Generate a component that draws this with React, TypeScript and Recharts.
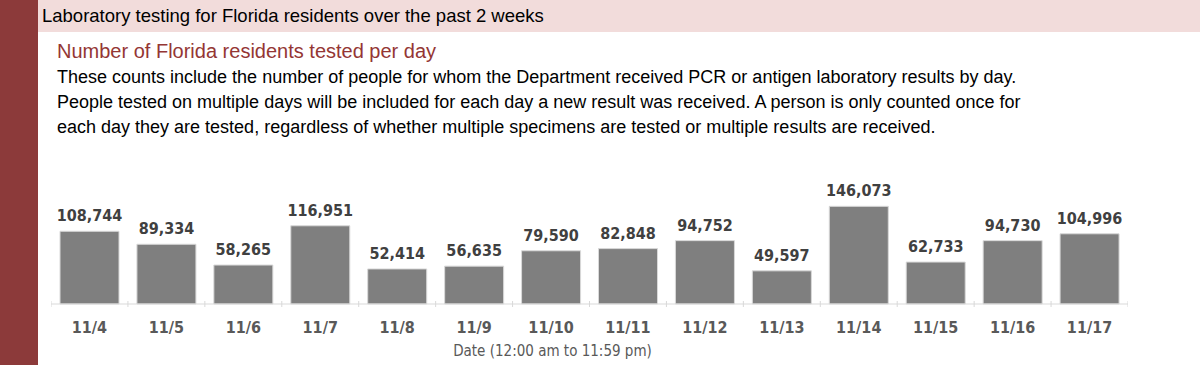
import { BarChart, Bar, XAxis, YAxis, LabelList } from "recharts";

const dates = ["11/4", "11/5", "11/6", "11/7", "11/8", "11/9", "11/10", "11/11", "11/12", "11/13", "11/14", "11/15", "11/16", "11/17"];
const tested = [108744, 89334, 58265, 116951, 52414, 56635, 79590, 82848, 94752, 49597, 146073, 62733, 94730, 104996];

const data = dates.map((d, i) => ({ date: d, tested: tested[i] }));

const MAROON = "#8c3a3a";
const NARROW = '"Liberation Sans Narrow", "DejaVu Sans Condensed", sans-serif';
const BODY = '"Liberation Sans", Arial, sans-serif';

const CHART_W = 1077;
const BAND = CHART_W / dates.length;

const DateTick = (props: any) => {
  const { x, y, payload, index } = props;
  return (
    <g>
      <line x1={x - BAND / 2} x2={x - BAND / 2} y1={y - 11} y2={y - 5} stroke="#d9d9d9" />
      {index === dates.length - 1 && (
        <line x1={x + BAND / 2} x2={x + BAND / 2} y1={y - 11} y2={y - 5} stroke="#d9d9d9" />
      )}
      <text x={x} y={y + 21} textAnchor="middle" fill="#595959" fontSize={16} fontWeight="bold" fontFamily={NARROW}>
        {payload.value}
      </text>
    </g>
  );
};

export default function App() {
  return (
    <div style={{ position: "absolute", left: 0, top: 0, width: 1200, height: 365, background: "#fff", overflow: "hidden" }}>
      <div style={{ position: "absolute", left: 0, top: 0, width: 38, height: 365, background: MAROON }} />
      <div style={{ position: "absolute", left: 38, top: 0, width: 1162, height: 32, background: "#f2dcdb" }} />
      <div style={{ position: "absolute", left: 42, top: 5, fontFamily: BODY, fontSize: 18.5, color: "#000", whiteSpace: "nowrap" }}>
        Laboratory testing for Florida residents over the past 2 weeks
      </div>
      <div style={{ position: "absolute", left: 57, top: 40, fontFamily: BODY, fontSize: 20, color: "#943634", whiteSpace: "nowrap" }}>
        Number of Florida residents tested per day
      </div>
      <div style={{ position: "absolute", left: 57, top: 65, fontFamily: BODY, fontSize: 18, lineHeight: "25px", color: "#000", whiteSpace: "nowrap" }}>
        These counts include the number of people for whom the Department received PCR or antigen laboratory results by day.
        <br />
        People tested on multiple days will be included for each day a new result was received. A person is only counted once for
        <br />
        each day they are tested, regardless of whether multiple specimens are tested or multiple results are received.
      </div>

      <div style={{ position: "absolute", left: 51, top: 170 }}>
        <BarChart width={CHART_W} height={195} data={data} margin={{ top: 27, right: 0, bottom: 11, left: 0 }} barCategoryGap="11.7%">
          <XAxis dataKey="date" stroke="#d9d9d9" tickLine={false} height={50} tick={<DateTick />} interval={0} />
          <YAxis hide domain={[0, 160000]} />
          <Bar dataKey="tested" fill="#7f7f7f" stroke="#d9d9d9" strokeWidth={1} isAnimationActive={false}>
            <LabelList
              dataKey="tested"
              position="top"
              offset={10}
              formatter={(v: any) => Number(v).toLocaleString("en-US")}
              style={{ fill: "#404040", fontSize: 16, fontWeight: "bold", fontFamily: NARROW }}
            />
          </Bar>
        </BarChart>
      </div>

      <div style={{ position: "absolute", left: 432, width: 241, top: 342, textAlign: "center", fontFamily: NARROW, fontSize: 15, color: "#595959", whiteSpace: "nowrap" }}>
        Date (12:00 am to 11:59 pm)
      </div>
    </div>
  );
}
